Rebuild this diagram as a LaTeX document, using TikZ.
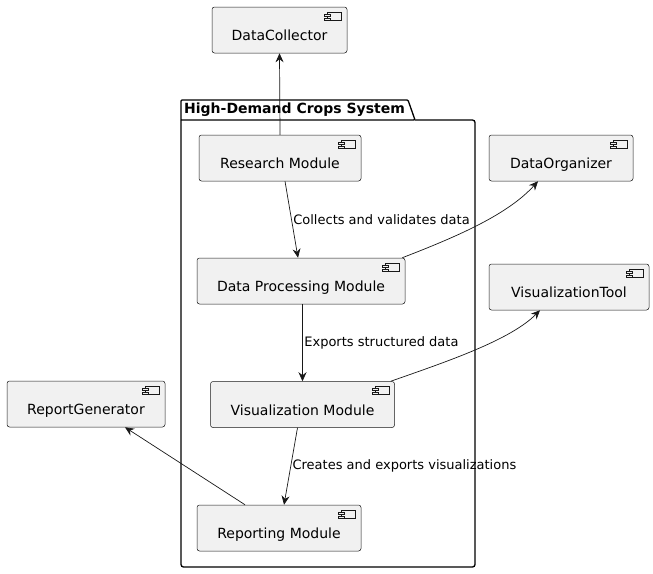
\documentclass[tikz,border=0pt]{standalone}
\usepackage{fontspec}
\setmainfont{DejaVu Sans}
\usepackage{tikz}
\usetikzlibrary{positioning,calc,arrows.meta}

\definecolor{boxfill}{HTML}{F1F1F1}
\definecolor{boxline}{HTML}{181818}

% little component glyph in the top right corner of a box
\newcommand{\compicon}[1]{%
  \draw[boxline,line width=0.5pt,fill=boxfill] ($(#1.north east)+(-20,5)$) rectangle ($(#1.north east)+(-6,13)$);
  \draw[boxline,line width=0.5pt,fill=boxfill] ($(#1.north east)+(-23,7)$) rectangle ($(#1.north east)+(-17,9)$);
  \draw[boxline,line width=0.5pt,fill=boxfill] ($(#1.north east)+(-23,11)$) rectangle ($(#1.north east)+(-17,13)$);
}

\begin{document}
\begin{tikzpicture}[
            x=1pt, y=-1pt,
            comp/.style={rectangle,rounded corners=2.5pt,draw=boxline,line width=0.5pt,fill=boxfill,
                font=\fontsize{14}{16}\selectfont,minimum height=46pt,text height=21pt,text depth=0pt,inner sep=0pt},
            lbl/.style={font=\fontsize{13}{15}\selectfont,inner xsep=1.5pt,inner ysep=0pt,anchor=west},
            every edge/.style={draw=boxline,line width=0.7pt,-{Stealth[length=9pt,width=8pt,inset=3pt]}},
        ]
            \useasboundingbox (0,0) rectangle (653,573);

            % package
            \draw[line width=1.3pt,rounded corners=2.5pt] (181,120) -- (181,567) -- (475,567) -- (475,120) -- (415,120);
            \draw[line width=1.3pt,rounded corners=1pt] (181,120) -- (181,100) -- (408,100) -- (415,120) -- (181,120);
            \node[font=\fontsize{14}{16}\selectfont\bfseries,anchor=west,inner sep=0pt] (pkg) at (184,110) {High-Demand Crops System};

            % components
            \node[comp,minimum width=135pt] (dc) at (279.5,30) {DataCollector};
            \node[comp,minimum width=162pt] (rm) at (280,158) {Research Module};
            \node[comp,minimum width=144pt] (dor) at (561,158) {DataOrganizer};
            \node[comp,minimum width=208pt] (dpm) at (301,281) {Data Processing Module};
            \node[comp,minimum width=160pt] (vt) at (569,287) {VisualizationTool};
            \node[comp,minimum width=158pt] (rg) at (86,404) {ReportGenerator};
            \node[comp,minimum width=184pt] (vm) at (302.5,404.5) {Visualization Module};
            \node[comp,minimum width=164pt] (rep) at (279,528) {Reporting Module};

            \foreach \n in {dc,rm,dor,dpm,vt,rg,vm,rep} {\compicon{\n}}

            \path (rm.north) edge (dc.south);
            \path ([xshift=5pt]rm.south) edge node[lbl,midway]{Collects and validates data} ([xshift=-3pt]dpm.north);
            \path (vm.north |- dpm.south) edge node[lbl,midway]{Exports structured data} (vm.north);
            \path ([xshift=-5pt]vm.south) edge node[lbl,midway]{Creates and exports visualizations} ([xshift=5pt]rep.north);
            \path ([xshift=-34pt]rep.north) edge ([xshift=39pt]rg.south);
            \draw[draw=boxline,line width=0.7pt,-{Stealth[length=9pt,width=8pt,inset=3pt]}]
                ([xshift=-3pt]dpm.north east) .. controls +(57,-22) and +(-30,33) .. ([xshift=-23pt]dor.south);
            \draw[draw=boxline,line width=0.7pt,-{Stealth[length=9pt,width=8pt,inset=3pt]}]
                ([xshift=-4pt]vm.north east) .. controls +(57,-20) and +(-30,30) .. ([xshift=-29pt]vt.south);
        \end{tikzpicture}
\end{document}
